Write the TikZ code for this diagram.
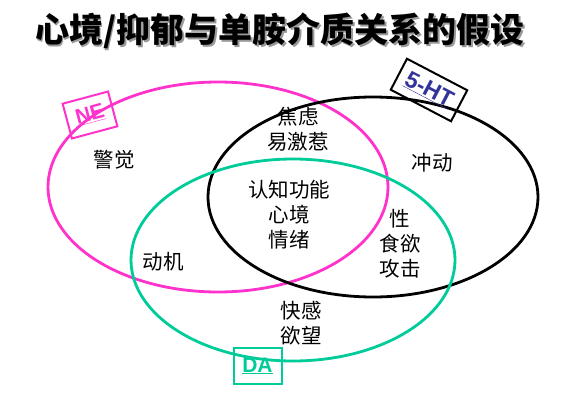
\documentclass[tikz,border=0pt]{standalone}
\usepackage{fontspec}
\setmainfont{Liberation Sans}
\newfontfamily\cjk{Noto Sans CJK SC}
\newfontfamily\lab{Liberation Sans}
\definecolor{nepink}{HTML}{FF33CC}
\definecolor{dagreen}{HTML}{00CC99}
\definecolor{htblue}{HTML}{333399}
\begin{document}
\begin{tikzpicture}[x=1pt,y=-1pt,
  ring/.style={line width=2.8pt},
  word/.style={font=\cjk\fontsize{20.5}{25}\selectfont, align=center, inner sep=0pt},
  tag/.style={draw, line width=2pt, font=\lab\bfseries\fontsize{21}{22}\selectfont, minimum width=47pt, minimum height=36pt, inner sep=0pt},
  headline/.style={font=\cjk\bfseries\fontsize{34}{36}\selectfont, inner sep=0pt},
]
\useasboundingbox (0,0) rectangle (563,402);
% title with shadow
\node[headline, text=black!40] (titleshadow) at (281.5,32.5) {心境/抑郁与单胺介质关系的假设};
\node[headline] (title) at (280,31) {心境/抑郁与单胺介质关系的假设};
% ellipses
\draw[ring, nepink] (218,187) ellipse [x radius=170, y radius=105];
\draw[ring, black] (373,197) ellipse [x radius=165, y radius=100];
\draw[ring, dagreen] (293,260) ellipse [x radius=162, y radius=101];
% labels
\node[tag, draw=nepink, text=nepink, rotate=15] (ne) at (90,115) {\underline{NE}};
\node[tag, draw=black, text=htblue, rotate=-27.6, minimum width=68pt, minimum height=35pt, font=\lab\bfseries\fontsize{23}{24}\selectfont] (ht) at (429,90) {\underline{5-HT}};
\node[tag, draw=dagreen, text=dagreen, minimum width=48pt, minimum height=36pt] (da) at (257.5,366) {\underline{DA}};
% words
\node[word] (w1) at (114,160) {警觉};
\node[word] (w2) at (298,129.5) {焦虑\\易激惹};
\node[word] (w3) at (432,163) {冲动};
\node[word] (w4) at (289,215) {认知功能\\心境\\情绪};
\node[word] (w5) at (163,262) {动机};
\node[word] (w6) at (400,244) {性\\食欲\\攻击};
\node[word] (w7) at (301,323) {快感\\欲望};
\end{tikzpicture}
\end{document}
